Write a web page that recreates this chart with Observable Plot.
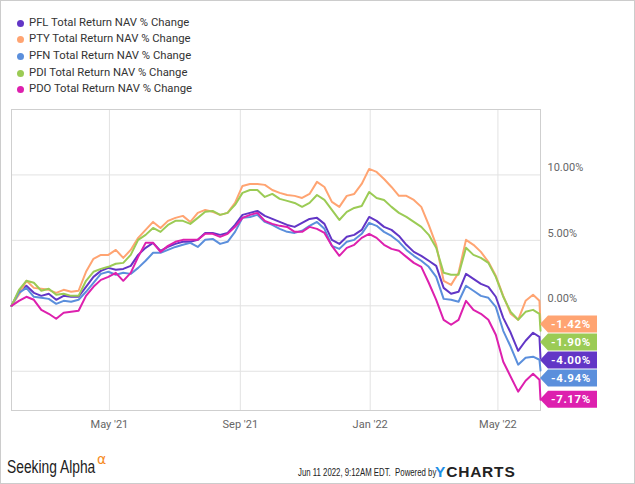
<!DOCTYPE html>
<html><head><meta charset="utf-8">
<script src="https://cdn.jsdelivr.net/npm/d3@7"></script>
<script src="https://cdn.jsdelivr.net/npm/@observablehq/plot@0.6"></script>
<style>
body{margin:0;background:#fff;}
#root{position:relative;width:635px;height:484px;overflow:hidden;font-family:Roboto,sans-serif;background:#fff;}
#border{position:absolute;left:0;top:0;width:635px;height:484px;box-sizing:border-box;border:1px solid #ccc;pointer-events:none;}
.leg{position:absolute;left:0;height:16px;line-height:16px;font-size:11.3px;color:#333;white-space:nowrap;}
.leg .dot{position:absolute;left:17px;top:5px;width:7px;height:7px;border-radius:50%;}
.leg .lab{position:absolute;left:29px;top:0;}
#chart{position:absolute;left:0;top:100px;}
#footer{position:absolute;left:0;top:440px;}
</style></head>
<body><div id="root"><div id="legend"></div><div id="chart"></div><div id="footer"></div><div id="border"></div></div>
<script>
const dates = ["2021-01-29","2021-02-05","2021-02-12","2021-02-19","2021-02-26","2021-03-05","2021-03-12","2021-03-19","2021-03-26","2021-04-02",
"2021-04-09","2021-04-16","2021-04-23","2021-04-30","2021-05-07","2021-05-14","2021-05-21","2021-05-28","2021-06-04","2021-06-11",
"2021-06-18","2021-06-25","2021-07-02","2021-07-09","2021-07-16","2021-07-23","2021-07-30","2021-08-06","2021-08-13","2021-08-20",
"2021-08-27","2021-09-03","2021-09-10","2021-09-17","2021-09-24","2021-10-01","2021-10-08","2021-10-15","2021-10-22","2021-10-29",
"2021-11-05","2021-11-12","2021-11-19","2021-11-26","2021-12-03","2021-12-10","2021-12-17","2021-12-24","2021-12-31","2022-01-07",
"2022-01-14","2022-01-21","2022-01-28","2022-02-04","2022-02-11","2022-02-18","2022-02-25","2022-03-04","2022-03-11","2022-03-18",
"2022-03-25","2022-04-01","2022-04-08","2022-04-15","2022-04-22","2022-04-29","2022-05-06","2022-05-13","2022-05-20","2022-05-27",
"2022-06-03","2022-06-09","2022-06-10"];

const PFL = [0,1.07,1.53,0.99,0.76,0.92,0.46,0.76,0.69,0.69,1.45,2.21,2.67,2.90,2.75,2.82,3.05,3.89,4.43,4.81,4.20,4.50,4.73,4.89,4.89,5.04,5.57,5.57,5.42,5.57,6.18,6.95,7.10,7.25,6.87,6.64,6.41,6.18,6.03,6.34,6.64,6.72,6.26,5.04,4.73,5.27,5.42,5.80,6.79,6.49,6.03,5.80,5.34,4.66,4.12,3.82,3.44,3.05,1.37,0.92,1.07,2.44,2.06,1.68,1.45,0.69,-0.92,-2.06,-3.44,-2.67,-2.06,-2.37,-4.00];
const PTY = [0,0.84,1.91,1.37,1.30,1.22,0.99,1.22,1.07,1.15,2.60,3.59,3.89,3.89,4.27,3.66,4.27,5.19,5.80,6.41,5.95,6.49,6.72,6.87,6.41,7.10,7.33,7.18,6.95,7.10,7.86,9.16,9.31,9.31,9.24,8.85,8.63,8.47,8.40,8.24,8.55,9.47,9.08,7.94,7.56,8.40,8.55,9.31,10.46,10.23,9.69,9.08,8.40,8.40,8.09,7.56,6.18,4.66,1.91,1.60,2.52,5.04,4.66,4.12,3.36,2.29,0.76,-0.61,-1.07,0.38,0.84,0.38,-1.42];
const PFN = [0,0.99,1.37,0.69,0.61,0.53,0.15,0.38,0.31,0.46,1.07,1.76,2.44,2.60,2.37,2.52,2.44,2.90,3.44,4.05,4.05,4.27,4.50,4.66,4.81,4.50,5.04,5.11,4.73,4.89,5.65,6.72,6.79,6.95,6.41,6.18,5.88,5.65,5.57,5.73,6.11,6.41,5.88,4.58,4.35,4.89,5.04,5.50,6.34,6.11,5.65,5.34,4.89,4.27,3.82,3.44,2.98,2.21,0.53,0.46,0.31,1.53,1.15,0.76,0.61,-0.08,-1.91,-3.13,-4.50,-3.97,-3.89,-4.12,-4.94];
const PDI = [0,1.22,1.91,1.76,1.15,1.30,0.84,0.92,0.76,0.76,1.91,2.60,2.82,2.98,3.21,3.28,3.89,5.04,5.42,5.95,5.65,6.18,6.49,6.49,6.26,6.72,7.18,7.25,6.95,7.10,7.71,8.63,8.85,8.85,8.32,8.55,8.17,8.02,7.86,7.56,7.86,8.47,8.09,7.33,6.56,7.18,7.48,7.63,8.70,8.24,8.09,7.56,7.10,6.79,6.41,6.03,5.42,4.43,2.52,2.37,2.37,4.43,3.89,3.66,3.28,2.21,0.69,-0.46,-1.07,-0.46,-0.31,-0.61,-1.90];
const PDO = [0,0.38,0.69,0.46,-0.31,-0.61,-0.99,-0.53,-0.46,-0.38,0.76,1.45,1.98,2.21,2.52,1.91,2.52,3.74,4.81,4.81,4.12,4.58,4.89,5.04,5.04,5.04,5.50,5.50,5.27,5.50,6.03,6.72,6.95,7.10,6.49,6.26,6.11,6.03,5.65,5.65,6.03,5.88,5.57,4.58,3.82,4.43,4.66,5.19,5.50,5.19,4.66,4.35,4.20,3.74,3.28,2.98,1.76,0.46,-1.07,-1.45,-1.07,0.38,-0.31,-0.61,-1.07,-2.21,-4.27,-5.42,-6.56,-5.73,-5.19,-5.65,-7.17];

const seriesNames = ["PFL Total Return NAV % Change","PTY Total Return NAV % Change","PFN Total Return NAV % Change","PDI Total Return NAV % Change","PDO Total Return NAV % Change"];
const seriesValues = [PFL, PTY, PFN, PDI, PDO];
const seriesColors = ["#6236c6","#ffa472","#5b8fdc","#9bcb55","#dd20ae"];
const xTicks = ["2021-05-01","2021-09-01","2022-01-01","2022-05-01"];
const yGrid = [-5,0,5,10];
const yLabels = [0,5,10];

const parse = d3.utcParse("%Y-%m-%d");
const series = seriesNames.map((name,i)=>({name, color: seriesColors[i],
  rows: dates.map((d,j)=>({date: parse(d), value: seriesValues[i][j]}))}));

// legend
const leg = d3.select("#legend");
const legCenters = [22.7,39.3,56,72.7,89.3];
series.forEach((s,i)=>{
  const div = leg.append("div").attr("class","leg").style("top",(legCenters[i]-8)+"px");
  div.append("span").attr("class","dot").style("background",s.color);
  div.append("span").attr("class","lab").text(s.name);
});

function tags(index, scales, values, dim) {
  const x0 = dim.width - dim.marginRight;
  const items = series.map(s => {
    const v = s.rows[s.rows.length-1].value;
    return {v, color: s.color, y: scales.y(v)};
  }).sort((a,b)=>a.y-b.y);
  for (let i=1;i<items.length;i++) items[i].y = Math.max(items[i].y, items[i-1].y+18);
  const g = d3.create("svg:g");
  for (const it of items) {
    const yc = it.y;
    g.append("path")
      .attr("d", `M${x0},${yc}L${x0+8},${yc-8.5}H${x0+57}V${yc+8.5}H${x0+8}Z`)
      .attr("fill", it.color);
    g.append("text")
      .attr("x", x0+31).attr("y", yc).attr("dy","0.36em")
      .attr("text-anchor","middle").attr("fill","#fff")
      .attr("font-size", 11.5).attr("font-weight","bold").attr("letter-spacing","0.6px")
      .attr("font-family","Roboto, sans-serif")
      .text(it.v.toFixed(2)+"%");
  }
  return g.node();
}

const chart = Plot.plot({
  width: 635, height: 340,
  marginTop: 9, marginBottom: 30, marginLeft: 11, marginRight: 95,
  style: {fontFamily: "Roboto, sans-serif", background: "transparent", overflow: "visible"},
  x: {type: "utc", domain: [parse(dates[0]), parse(dates[dates.length-1])]},
  y: {domain: [-8, 15]},
  marks: [
    Plot.gridY(yGrid, {stroke: "#e2e2e2", strokeOpacity: 1}),
    Plot.gridX(xTicks.map(parse), {stroke: "#e2e2e2", strokeOpacity: 1}),
    Plot.frame({stroke: "#cfcfcf"}),
    Plot.axisY(yLabels, {anchor: "right", tickSize: 0, tickPadding: 7, dy: -7, fontSize: 11, fill: "#666",
      tickFormat: d => d.toFixed(2) + "%", label: null}),
    Plot.axisX(xTicks.map(parse), {tickSize: 0, tickPadding: 10, fontSize: 11, fill: "#666",
      tickFormat: d3.utcFormat("%b '%y"), label: null}),
    ...series.map(s => Plot.lineY(s.rows, {x: "date", y: "value", stroke: s.color, strokeWidth: 2})),
    tags
  ]
});
document.getElementById("chart").appendChild(chart);

// footer
const f = d3.select("#footer").append("svg").attr("width",635).attr("height",44);
f.append("text").attr("transform","translate(7,33) scale(0.79,1)")
  .attr("font-family","'Liberation Sans', sans-serif")
  .attr("font-size",17.5).attr("fill","#222").text("Seeking Alpha");
f.append("text").attr("x",97).attr("y",24).attr("font-family","'DejaVu Sans', sans-serif")
  .attr("font-size",14).attr("fill","#f68b1f").text("α");
f.append("text").attr("transform","translate(298,36) scale(0.76,1)")
  .attr("font-family","'Liberation Sans', sans-serif")
  .attr("font-size",10.3).attr("fill","#222").attr("xml:space","preserve")
  .text("Jun 11 2022, 9:12AM EDT.  Powered by");
const yc = f.append("text").attr("x",435).attr("y",37).attr("font-family","'Liberation Sans', sans-serif")
  .attr("font-size",15.5).attr("font-weight","bold").attr("letter-spacing","0.8px");
yc.append("tspan").attr("fill","#1e8fe6").text("Y");
yc.append("tspan").attr("fill","#222").text("CHARTS");
</script></body></html>
